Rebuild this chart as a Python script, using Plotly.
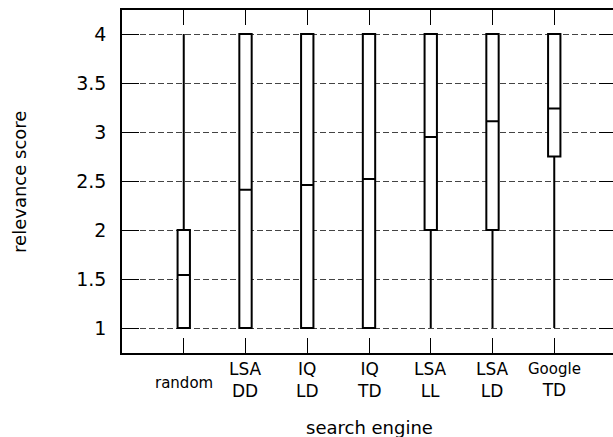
import plotly.graph_objects as go

categories = ["random", "LSA DD", "IQ LD", "IQ TD", "LSA LL", "LSA LD", "Google TD"]
tick_labels = ["random", "LSA<br>DD", "IQ<br>LD", "IQ<br>TD", "LSA<br>LL", "LSA<br>LD",
               "<span style='font-size:15px'>Google</span><br>TD"]
lower_fence = [1, 1, 1, 1, 1, 1, 1]
q1 = [1, 1, 1, 1, 2, 2, 2.75]
median = [1.54, 2.41, 2.46, 2.52, 2.95, 3.11, 3.24]
q3 = [2, 4, 4, 4, 4, 4, 4]
upper_fence = [4, 4, 4, 4, 4, 4, 4]
y_ticks = [1, 1.5, 2, 2.5, 3, 3.5, 4]
y_tick_text = ["1", "1.5", "2", "2.5", "3", "3.5", "4"]

FONT = "DejaVu Sans"

fig = go.Figure()
fig.add_trace(go.Box(
    x=categories, q1=q1, median=median, q3=q3,
    lowerfence=lower_fence, upperfence=upper_fence,
    width=0.2, whiskerwidth=0,
    line=dict(color="black", width=2), fillcolor="white",
    boxpoints=False, showlegend=False, hoverinfo="skip",
))

annotations = []
for cat, lab in zip(categories, tick_labels):
    if cat == "random":
        annotations.append(dict(x=cat, xref="x", y=0, yref="paper", yshift=-30,
                                text=lab, showarrow=False, yanchor="middle",
                                font=dict(size=15, family=FONT, color="black")))
    else:
        annotations.append(dict(x=cat, xref="x", y=0, yref="paper", yshift=-27,
                                text=lab, showarrow=False, yanchor="middle",
                                font=dict(size=17, family=FONT, color="black")))

annotations.append(dict(x=0.5, xref="paper", y=0, yref="paper", yshift=-74,
                        text="search engine", showarrow=False, yanchor="middle",
                        font=dict(size=18, family=FONT, color="black")))
annotations.append(dict(x=-0.2077, xref="paper", y=0.5, yref="paper",
                        text="relevance score", showarrow=False, textangle=-90,
                        xanchor="center", yanchor="middle",
                        font=dict(size=18, family=FONT, color="black")))

fig.update_layout(
    width=618, height=437,
    margin=dict(l=122, r=0, t=10, b=84),
    paper_bgcolor="white", plot_bgcolor="white",
    font=dict(family=FONT, color="black"),
    annotations=annotations,
    xaxis=dict(
        type="category", range=[-1, 7], showticklabels=False,
        ticks="inside", ticklen=15, tickwidth=1, tickcolor="black",
        showline=True, linecolor="black", linewidth=1.5, mirror="ticks",
        showgrid=False, zeroline=False, fixedrange=True,
    ),
    yaxis=dict(
        range=[0.745, 4.245], tickvals=y_ticks, ticktext=y_tick_text,
        ticks="inside", ticklen=17, tickwidth=1, tickcolor="black",
        showline=True, linecolor="black", linewidth=1.5, mirror="ticks",
        showgrid=True, gridcolor="#444", gridwidth=1, griddash="6px,3px",
        zeroline=False, tickfont=dict(size=19, family=FONT, color="black"),
        ticklabelstandoff=10, fixedrange=True,
    ),
)

fig.write_html("out.html", config={"displayModeBar": False},
               post_script="document.body.style.margin='0';document.body.style.padding='0';"
                           "document.body.style.overflow='hidden';"
                           "document.documentElement.style.overflow='hidden';")
